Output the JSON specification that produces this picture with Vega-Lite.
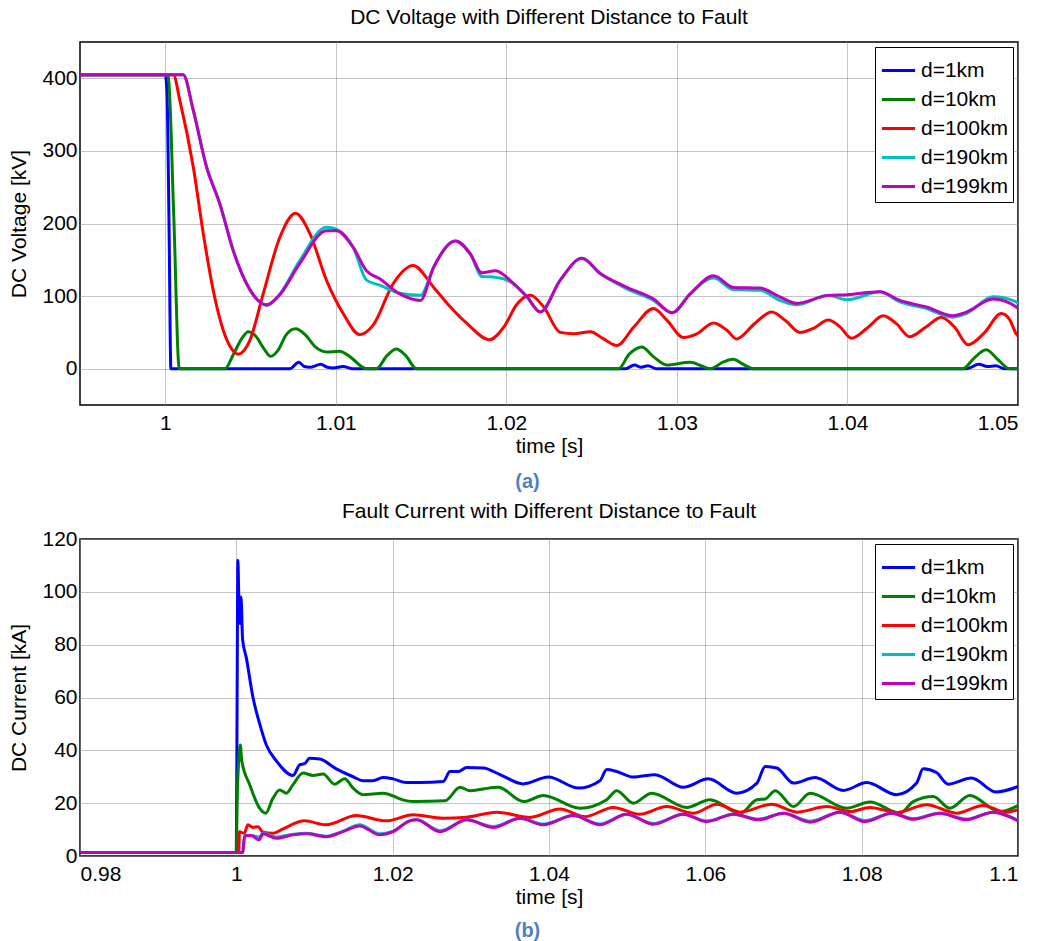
{
  "$schema": "https://vega.github.io/schema/vega-lite/v6.json",
  "background": "white",
  "padding": {"left": 8, "top": 6, "right": 5, "bottom": 2},
  "config": {
    "font": "Liberation Sans",
    "view": {"stroke": "black", "strokeWidth": 1.5},
    "axis": {"labelFont": "Liberation Sans", "labelFontSize": 21, "labelColor": "black", "titleFont": "Liberation Sans", "titleFontSize": 21, "titleFontWeight": "normal", "titleColor": "black", "gridColor": "#8a8a8a", "gridDash": [1, 1], "gridWidth": 1, "domain": false, "ticks": false},
    "legend": {"strokeColor": "black", "fillColor": "white", "padding": 5, "labelFont": "Liberation Sans", "labelFontSize": 21, "labelColor": "black", "symbolType": "stroke", "symbolStrokeWidth": 3, "symbolSize": 1100, "rowPadding": -4, "labelOffset": 4},
    "title": {"font": "Liberation Sans", "fontSize": 21, "fontWeight": "normal", "color": "black"},
    "concat": {"spacing": 8}
  },
  "datasets": {
    "volt": [
      {"d":"d=1km","t":0.995,"v":405},{"d":"d=1km","t":1.0,"v":405},{"d":"d=1km","t":1.0001,"v":380},{"d":"d=1km","t":1.00022,"v":200},{"d":"d=1km","t":1.00033,"v":0},{"d":"d=1km","t":1.0073,"v":0},{"d":"d=1km","t":1.00783,"v":9},{"d":"d=1km","t":1.00815,"v":3},{"d":"d=1km","t":1.00848,"v":2},{"d":"d=1km","t":1.00912,"v":6},{"d":"d=1km","t":1.0095,"v":2},{"d":"d=1km","t":1.00984,"v":1},{"d":"d=1km","t":1.01043,"v":3},{"d":"d=1km","t":1.011,"v":0},{"d":"d=1km","t":1.027,"v":0},{"d":"d=1km","t":1.0275,"v":5},{"d":"d=1km","t":1.0279,"v":2},{"d":"d=1km","t":1.0283,"v":4},{"d":"d=1km","t":1.0288,"v":0},{"d":"d=1km","t":1.047,"v":0},{"d":"d=1km","t":1.0477,"v":6},{"d":"d=1km","t":1.0482,"v":3},{"d":"d=1km","t":1.0487,"v":4},{"d":"d=1km","t":1.0492,"v":0},{"d":"d=1km","t":1.05,"v":0},
      {"d":"d=10km","t":0.995,"v":405},{"d":"d=10km","t":1.0,"v":405},{"d":"d=10km","t":1.00018,"v":401},{"d":"d=10km","t":1.0005,"v":209},{"d":"d=10km","t":1.00082,"v":0},{"d":"d=10km","t":1.0035,"v":0},{"d":"d=10km","t":1.004,"v":20},{"d":"d=10km","t":1.0045,"v":42},{"d":"d=10km","t":1.00486,"v":51},{"d":"d=10km","t":1.0053,"v":45},{"d":"d=10km","t":1.0058,"v":27},{"d":"d=10km","t":1.00617,"v":17},{"d":"d=10km","t":1.0066,"v":25},{"d":"d=10km","t":1.0071,"v":47},{"d":"d=10km","t":1.00764,"v":55},{"d":"d=10km","t":1.0082,"v":47},{"d":"d=10km","t":1.0088,"v":30},{"d":"d=10km","t":1.00945,"v":23},{"d":"d=10km","t":1.01023,"v":24},{"d":"d=10km","t":1.0108,"v":17},{"d":"d=10km","t":1.0118,"v":0},{"d":"d=10km","t":1.01238,"v":0},{"d":"d=10km","t":1.013,"v":18},{"d":"d=10km","t":1.01355,"v":27},{"d":"d=10km","t":1.0141,"v":18},{"d":"d=10km","t":1.01473,"v":0},{"d":"d=10km","t":1.02658,"v":0},{"d":"d=10km","t":1.0272,"v":20},{"d":"d=10km","t":1.02795,"v":30},{"d":"d=10km","t":1.0286,"v":17},{"d":"d=10km","t":1.02941,"v":5},{"d":"d=10km","t":1.03078,"v":9},{"d":"d=10km","t":1.03195,"v":0},{"d":"d=10km","t":1.0327,"v":9},{"d":"d=10km","t":1.0333,"v":13},{"d":"d=10km","t":1.0339,"v":6},{"d":"d=10km","t":1.03449,"v":0},{"d":"d=10km","t":1.04678,"v":0},{"d":"d=10km","t":1.0474,"v":14},{"d":"d=10km","t":1.04814,"v":26},{"d":"d=10km","t":1.0488,"v":13},{"d":"d=10km","t":1.04951,"v":0},{"d":"d=10km","t":1.05,"v":0},
      {"d":"d=100km","t":0.995,"v":405},{"d":"d=100km","t":1.00047,"v":405},{"d":"d=100km","t":1.00086,"v":369},{"d":"d=100km","t":1.00164,"v":278},{"d":"d=100km","t":1.00223,"v":186},{"d":"d=100km","t":1.00281,"v":108},{"d":"d=100km","t":1.0034,"v":53},{"d":"d=100km","t":1.0039,"v":27},{"d":"d=100km","t":1.00428,"v":20},{"d":"d=100km","t":1.00496,"v":39},{"d":"d=100km","t":1.00574,"v":103},{"d":"d=100km","t":1.00672,"v":181},{"d":"d=100km","t":1.00764,"v":214},{"d":"d=100km","t":1.00848,"v":186},{"d":"d=100km","t":1.00945,"v":122},{"d":"d=100km","t":1.01043,"v":76},{"d":"d=100km","t":1.01141,"v":47},{"d":"d=100km","t":1.01219,"v":60},{"d":"d=100km","t":1.01336,"v":117},{"d":"d=100km","t":1.01453,"v":142},{"d":"d=100km","t":1.01574,"v":112},{"d":"d=100km","t":1.01672,"v":85},{"d":"d=100km","t":1.0177,"v":62},{"d":"d=100km","t":1.01902,"v":40},{"d":"d=100km","t":1.01984,"v":57},{"d":"d=100km","t":1.02063,"v":89},{"d":"d=100km","t":1.02141,"v":101},{"d":"d=100km","t":1.02219,"v":85},{"d":"d=100km","t":1.02316,"v":50},{"d":"d=100km","t":1.02395,"v":48},{"d":"d=100km","t":1.02492,"v":51},{"d":"d=100km","t":1.0257,"v":41},{"d":"d=100km","t":1.02648,"v":32},{"d":"d=100km","t":1.02746,"v":57},{"d":"d=100km","t":1.02863,"v":83},{"d":"d=100km","t":1.02941,"v":67},{"d":"d=100km","t":1.03039,"v":43},{"d":"d=100km","t":1.03117,"v":48},{"d":"d=100km","t":1.03215,"v":63},{"d":"d=100km","t":1.03293,"v":53},{"d":"d=100km","t":1.0335,"v":41},{"d":"d=100km","t":1.03455,"v":62},{"d":"d=100km","t":1.03555,"v":78},{"d":"d=100km","t":1.03638,"v":66},{"d":"d=100km","t":1.03721,"v":50},{"d":"d=100km","t":1.03804,"v":56},{"d":"d=100km","t":1.03887,"v":67},{"d":"d=100km","t":1.03955,"v":58},{"d":"d=100km","t":1.04023,"v":42},{"d":"d=100km","t":1.04116,"v":56},{"d":"d=100km","t":1.04209,"v":73},{"d":"d=100km","t":1.04287,"v":62},{"d":"d=100km","t":1.04365,"v":44},{"d":"d=100km","t":1.04458,"v":57},{"d":"d=100km","t":1.04551,"v":71},{"d":"d=100km","t":1.04629,"v":57},{"d":"d=100km","t":1.04707,"v":33},{"d":"d=100km","t":1.04805,"v":50},{"d":"d=100km","t":1.04902,"v":76},{"d":"d=100km","t":1.0495,"v":68},{"d":"d=100km","t":1.0499,"v":48},{"d":"d=100km","t":1.05,"v":45},
      {"d":"d=190km","t":0.995,"v":405},{"d":"d=190km","t":1.00105,"v":405},{"d":"d=190km","t":1.00164,"v":356},{"d":"d=190km","t":1.00242,"v":278},{"d":"d=190km","t":1.0032,"v":227},{"d":"d=190km","t":1.00398,"v":163},{"d":"d=190km","t":1.00477,"v":117},{"d":"d=190km","t":1.0054,"v":95},{"d":"d=190km","t":1.00594,"v":87},{"d":"d=190km","t":1.00672,"v":103},{"d":"d=190km","t":1.00789,"v":149},{"d":"d=190km","t":1.00945,"v":195},{"d":"d=190km","t":1.01004,"v":192},{"d":"d=190km","t":1.01102,"v":167},{"d":"d=190km","t":1.0118,"v":122},{"d":"d=190km","t":1.01258,"v":115},{"d":"d=190km","t":1.01375,"v":104},{"d":"d=190km","t":1.01496,"v":101},{"d":"d=190km","t":1.01574,"v":140},{"d":"d=190km","t":1.01701,"v":176},{"d":"d=190km","t":1.01789,"v":158},{"d":"d=190km","t":1.01857,"v":127},{"d":"d=190km","t":1.01936,"v":126},{"d":"d=190km","t":1.02043,"v":117},{"d":"d=190km","t":1.02121,"v":99},{"d":"d=190km","t":1.02199,"v":78},{"d":"d=190km","t":1.02316,"v":122},{"d":"d=190km","t":1.02443,"v":152},{"d":"d=190km","t":1.02551,"v":131},{"d":"d=190km","t":1.02707,"v":110},{"d":"d=190km","t":1.02863,"v":94},{"d":"d=190km","t":1.02971,"v":77},{"d":"d=190km","t":1.03078,"v":103},{"d":"d=190km","t":1.03215,"v":125},{"d":"d=190km","t":1.03332,"v":109},{"d":"d=190km","t":1.03488,"v":108},{"d":"d=190km","t":1.03604,"v":94},{"d":"d=190km","t":1.03701,"v":88},{"d":"d=190km","t":1.03887,"v":101},{"d":"d=190km","t":1.04,"v":95},{"d":"d=190km","t":1.04189,"v":106},{"d":"d=190km","t":1.04307,"v":92},{"d":"d=190km","t":1.04463,"v":83},{"d":"d=190km","t":1.04619,"v":71},{"d":"d=190km","t":1.04697,"v":76},{"d":"d=190km","t":1.04854,"v":99},{"d":"d=190km","t":1.0499,"v":92},{"d":"d=190km","t":1.05,"v":89},
      {"d":"d=199km","t":0.995,"v":405},{"d":"d=199km","t":1.00105,"v":405},{"d":"d=199km","t":1.00164,"v":356},{"d":"d=199km","t":1.00242,"v":278},{"d":"d=199km","t":1.0032,"v":227},{"d":"d=199km","t":1.00398,"v":163},{"d":"d=199km","t":1.00477,"v":117},{"d":"d=199km","t":1.0054,"v":95},{"d":"d=199km","t":1.00594,"v":88},{"d":"d=199km","t":1.00672,"v":102},{"d":"d=199km","t":1.00789,"v":145},{"d":"d=199km","t":1.00945,"v":190},{"d":"d=199km","t":1.01004,"v":190},{"d":"d=199km","t":1.01102,"v":167},{"d":"d=199km","t":1.0118,"v":135},{"d":"d=199km","t":1.01258,"v":124},{"d":"d=199km","t":1.01375,"v":103},{"d":"d=199km","t":1.01496,"v":94},{"d":"d=199km","t":1.01574,"v":140},{"d":"d=199km","t":1.01701,"v":176},{"d":"d=199km","t":1.01789,"v":158},{"d":"d=199km","t":1.01857,"v":132},{"d":"d=199km","t":1.01936,"v":135},{"d":"d=199km","t":1.02043,"v":117},{"d":"d=199km","t":1.02121,"v":99},{"d":"d=199km","t":1.02199,"v":78},{"d":"d=199km","t":1.02316,"v":122},{"d":"d=199km","t":1.02443,"v":152},{"d":"d=199km","t":1.02551,"v":131},{"d":"d=199km","t":1.02707,"v":112},{"d":"d=199km","t":1.02863,"v":96},{"d":"d=199km","t":1.02971,"v":77},{"d":"d=199km","t":1.03078,"v":103},{"d":"d=199km","t":1.03215,"v":128},{"d":"d=199km","t":1.03332,"v":112},{"d":"d=199km","t":1.03488,"v":111},{"d":"d=199km","t":1.03604,"v":99},{"d":"d=199km","t":1.03701,"v":90},{"d":"d=199km","t":1.03887,"v":101},{"d":"d=199km","t":1.04,"v":102},{"d":"d=199km","t":1.04189,"v":106},{"d":"d=199km","t":1.04307,"v":94},{"d":"d=199km","t":1.04463,"v":85},{"d":"d=199km","t":1.04619,"v":73},{"d":"d=199km","t":1.04697,"v":78},{"d":"d=199km","t":1.04854,"v":96},{"d":"d=199km","t":1.0499,"v":85},{"d":"d=199km","t":1.05,"v":83}
    ],
    "curr": [
      {"d":"d=1km","t":0.98,"v":1.3},{"d":"d=1km","t":1.0,"v":1.3},{"d":"d=1km","t":1.0001,"v":60},{"d":"d=1km","t":1.0002,"v":112},{"d":"d=1km","t":1.0003,"v":100},{"d":"d=1km","t":1.00045,"v":88},{"d":"d=1km","t":1.0006,"v":98},{"d":"d=1km","t":1.0008,"v":82},{"d":"d=1km","t":1.00128,"v":75},{"d":"d=1km","t":1.00213,"v":60},{"d":"d=1km","t":1.00299,"v":50},{"d":"d=1km","t":1.00384,"v":42},{"d":"d=1km","t":1.00512,"v":36},{"d":"d=1km","t":1.00725,"v":30.5},{"d":"d=1km","t":1.0081,"v":34.5},{"d":"d=1km","t":1.00875,"v":35},{"d":"d=1km","t":1.00938,"v":37},{"d":"d=1km","t":1.01066,"v":36.7},{"d":"d=1km","t":1.01279,"v":33},{"d":"d=1km","t":1.01493,"v":30},{"d":"d=1km","t":1.0162,"v":28.5},{"d":"d=1km","t":1.01748,"v":28.5},{"d":"d=1km","t":1.01876,"v":29.7},{"d":"d=1km","t":1.02004,"v":29.2},{"d":"d=1km","t":1.02175,"v":27.8},{"d":"d=1km","t":1.02345,"v":27.8},{"d":"d=1km","t":1.02648,"v":28.2},{"d":"d=1km","t":1.02733,"v":32},{"d":"d=1km","t":1.0284,"v":32},{"d":"d=1km","t":1.02947,"v":33.5},{"d":"d=1km","t":1.0316,"v":33.3},{"d":"d=1km","t":1.03373,"v":30.8},{"d":"d=1km","t":1.03672,"v":27.3},{"d":"d=1km","t":1.03991,"v":29.9},{"d":"d=1km","t":1.04375,"v":25.7},{"d":"d=1km","t":1.04652,"v":28.5},{"d":"d=1km","t":1.04738,"v":32.7},{"d":"d=1km","t":1.04866,"v":32},{"d":"d=1km","t":1.05079,"v":29.9},{"d":"d=1km","t":1.05356,"v":30.8},{"d":"d=1km","t":1.05718,"v":26},{"d":"d=1km","t":1.06038,"v":29.2},{"d":"d=1km","t":1.064,"v":23.8},{"d":"d=1km","t":1.0666,"v":27.6},{"d":"d=1km","t":1.06766,"v":33.9},{"d":"d=1km","t":1.06915,"v":33.3},{"d":"d=1km","t":1.07128,"v":27.6},{"d":"d=1km","t":1.07404,"v":29.7},{"d":"d=1km","t":1.07766,"v":24.8},{"d":"d=1km","t":1.08064,"v":27.8},{"d":"d=1km","t":1.08447,"v":23.2},{"d":"d=1km","t":1.08702,"v":27.6},{"d":"d=1km","t":1.08787,"v":33},{"d":"d=1km","t":1.08957,"v":31.6},{"d":"d=1km","t":1.09106,"v":27.2},{"d":"d=1km","t":1.09404,"v":29.5},{"d":"d=1km","t":1.09723,"v":24.2},{"d":"d=1km","t":1.1,"v":26.3},
      {"d":"d=10km","t":0.98,"v":1.3},{"d":"d=10km","t":1.0,"v":1.3},{"d":"d=10km","t":1.0001,"v":20},{"d":"d=10km","t":1.0003,"v":36},{"d":"d=10km","t":1.00051,"v":42},{"d":"d=10km","t":1.0007,"v":36},{"d":"d=10km","t":1.00171,"v":27},{"d":"d=10km","t":1.00299,"v":18},{"d":"d=10km","t":1.00375,"v":16.2},{"d":"d=10km","t":1.00469,"v":21.9},{"d":"d=10km","t":1.00554,"v":25},{"d":"d=10km","t":1.0064,"v":23.8},{"d":"d=10km","t":1.00725,"v":27},{"d":"d=10km","t":1.00853,"v":31.4},{"d":"d=10km","t":1.00981,"v":30.5},{"d":"d=10km","t":1.01109,"v":31},{"d":"d=10km","t":1.01258,"v":27.2},{"d":"d=10km","t":1.01386,"v":29.2},{"d":"d=10km","t":1.01493,"v":25.7},{"d":"d=10km","t":1.0162,"v":23.2},{"d":"d=10km","t":1.01876,"v":23.8},{"d":"d=10km","t":1.02175,"v":20.9},{"d":"d=10km","t":1.02264,"v":20.6},{"d":"d=10km","t":1.0267,"v":20.9},{"d":"d=10km","t":1.02862,"v":26},{"d":"d=10km","t":1.0299,"v":24.7},{"d":"d=10km","t":1.0316,"v":25.4},{"d":"d=10km","t":1.03352,"v":26},{"d":"d=10km","t":1.03672,"v":20.6},{"d":"d=10km","t":1.03928,"v":22.9},{"d":"d=10km","t":1.04397,"v":18.1},{"d":"d=10km","t":1.04738,"v":21.3},{"d":"d=10km","t":1.04866,"v":24.7},{"d":"d=10km","t":1.05079,"v":20},{"d":"d=10km","t":1.05313,"v":23.8},{"d":"d=10km","t":1.05761,"v":18.4},{"d":"d=10km","t":1.0606,"v":21.3},{"d":"d=10km","t":1.06447,"v":16.2},{"d":"d=10km","t":1.0666,"v":21.3},{"d":"d=10km","t":1.06766,"v":21.6},{"d":"d=10km","t":1.06894,"v":24.7},{"d":"d=10km","t":1.07128,"v":18.7},{"d":"d=10km","t":1.0734,"v":23.8},{"d":"d=10km","t":1.07809,"v":18.1},{"d":"d=10km","t":1.08106,"v":20.4},{"d":"d=10km","t":1.08489,"v":16.2},{"d":"d=10km","t":1.0866,"v":20.6},{"d":"d=10km","t":1.08915,"v":22.5},{"d":"d=10km","t":1.09128,"v":18.1},{"d":"d=10km","t":1.09383,"v":22.9},{"d":"d=10km","t":1.09766,"v":16.8},{"d":"d=10km","t":1.1,"v":19.1},
      {"d":"d=100km","t":0.98,"v":1.3},{"d":"d=100km","t":1.0003,"v":1.3},{"d":"d=100km","t":1.0004,"v":9.2},{"d":"d=100km","t":1.001,"v":8.6},{"d":"d=100km","t":1.00149,"v":11.8},{"d":"d=100km","t":1.0021,"v":10.8},{"d":"d=100km","t":1.00277,"v":11.1},{"d":"d=100km","t":1.00341,"v":9},{"d":"d=100km","t":1.00469,"v":8.6},{"d":"d=100km","t":1.00597,"v":10.3},{"d":"d=100km","t":1.00874,"v":13.3},{"d":"d=100km","t":1.01151,"v":11.8},{"d":"d=100km","t":1.01535,"v":15.3},{"d":"d=100km","t":1.01919,"v":13.3},{"d":"d=100km","t":1.0226,"v":15.6},{"d":"d=100km","t":1.02648,"v":14.3},{"d":"d=100km","t":1.02947,"v":14.7},{"d":"d=100km","t":1.0333,"v":16.6},{"d":"d=100km","t":1.03757,"v":14.6},{"d":"d=100km","t":1.04141,"v":17.8},{"d":"d=100km","t":1.04461,"v":14.9},{"d":"d=100km","t":1.04823,"v":18.4},{"d":"d=100km","t":1.05164,"v":15.8},{"d":"d=100km","t":1.05505,"v":18.7},{"d":"d=100km","t":1.05846,"v":16.2},{"d":"d=100km","t":1.06149,"v":19.6},{"d":"d=100km","t":1.06447,"v":16.6},{"d":"d=100km","t":1.06851,"v":19.6},{"d":"d=100km","t":1.0717,"v":16.6},{"d":"d=100km","t":1.07553,"v":18.7},{"d":"d=100km","t":1.07851,"v":16.8},{"d":"d=100km","t":1.08106,"v":18.4},{"d":"d=100km","t":1.08447,"v":16.5},{"d":"d=100km","t":1.0883,"v":19.4},{"d":"d=100km","t":1.09213,"v":16.2},{"d":"d=100km","t":1.09553,"v":19.1},{"d":"d=100km","t":1.09851,"v":16.6},{"d":"d=100km","t":1.1,"v":17.5},
      {"d":"d=190km","t":0.98,"v":1.3},{"d":"d=190km","t":1.0008,"v":1.3},{"d":"d=190km","t":1.00107,"v":7.7},{"d":"d=190km","t":1.0019,"v":7.8},{"d":"d=190km","t":1.0029,"v":7.2},{"d":"d=190km","t":1.00341,"v":8.6},{"d":"d=190km","t":1.00512,"v":7.2},{"d":"d=190km","t":1.00725,"v":8.2},{"d":"d=190km","t":1.00895,"v":8.6},{"d":"d=190km","t":1.01151,"v":7.5},{"d":"d=190km","t":1.01365,"v":9.4},{"d":"d=190km","t":1.01578,"v":11.8},{"d":"d=190km","t":1.01834,"v":8.4},{"d":"d=190km","t":1.02004,"v":9.4},{"d":"d=190km","t":1.02217,"v":13.3},{"d":"d=190km","t":1.02307,"v":13.7},{"d":"d=190km","t":1.02606,"v":9.6},{"d":"d=190km","t":1.02947,"v":13.7},{"d":"d=190km","t":1.03288,"v":11.2},{"d":"d=190km","t":1.03629,"v":14.3},{"d":"d=190km","t":1.03928,"v":12.1},{"d":"d=190km","t":1.04311,"v":15.3},{"d":"d=190km","t":1.04652,"v":12.1},{"d":"d=190km","t":1.04994,"v":15.8},{"d":"d=190km","t":1.05335,"v":12.3},{"d":"d=190km","t":1.05718,"v":15.8},{"d":"d=190km","t":1.06017,"v":13.3},{"d":"d=190km","t":1.06362,"v":15.8},{"d":"d=190km","t":1.06681,"v":14},{"d":"d=190km","t":1.07,"v":16.2},{"d":"d=190km","t":1.0734,"v":13.2},{"d":"d=190km","t":1.07723,"v":16.6},{"d":"d=190km","t":1.08043,"v":13.4},{"d":"d=190km","t":1.08383,"v":16.2},{"d":"d=190km","t":1.0866,"v":14.2},{"d":"d=190km","t":1.09,"v":16.2},{"d":"d=190km","t":1.0934,"v":14},{"d":"d=190km","t":1.09681,"v":16.6},{"d":"d=190km","t":1.1,"v":13.6},
      {"d":"d=199km","t":0.98,"v":1.3},{"d":"d=199km","t":1.0008,"v":1.3},{"d":"d=199km","t":1.00107,"v":7.7},{"d":"d=199km","t":1.0019,"v":7.8},{"d":"d=199km","t":1.0029,"v":6.1},{"d":"d=199km","t":1.00341,"v":8.4},{"d":"d=199km","t":1.00512,"v":6.7},{"d":"d=199km","t":1.00725,"v":8},{"d":"d=199km","t":1.00895,"v":8.4},{"d":"d=199km","t":1.01151,"v":7.3},{"d":"d=199km","t":1.01365,"v":9.2},{"d":"d=199km","t":1.01578,"v":11.4},{"d":"d=199km","t":1.01834,"v":8},{"d":"d=199km","t":1.02004,"v":9.2},{"d":"d=199km","t":1.02217,"v":13.3},{"d":"d=199km","t":1.02307,"v":13.7},{"d":"d=199km","t":1.02606,"v":9.2},{"d":"d=199km","t":1.02947,"v":13.7},{"d":"d=199km","t":1.03288,"v":10.8},{"d":"d=199km","t":1.03629,"v":14.3},{"d":"d=199km","t":1.03928,"v":11.8},{"d":"d=199km","t":1.04311,"v":15.3},{"d":"d=199km","t":1.04652,"v":11.8},{"d":"d=199km","t":1.04994,"v":15.8},{"d":"d=199km","t":1.05335,"v":12},{"d":"d=199km","t":1.05718,"v":15.8},{"d":"d=199km","t":1.06017,"v":13},{"d":"d=199km","t":1.06362,"v":15.8},{"d":"d=199km","t":1.06681,"v":13.7},{"d":"d=199km","t":1.07,"v":16.2},{"d":"d=199km","t":1.0734,"v":12.8},{"d":"d=199km","t":1.07723,"v":16.6},{"d":"d=199km","t":1.08043,"v":13},{"d":"d=199km","t":1.08383,"v":16.2},{"d":"d=199km","t":1.0866,"v":13.9},{"d":"d=199km","t":1.09,"v":16.2},{"d":"d=199km","t":1.0934,"v":13.7},{"d":"d=199km","t":1.09681,"v":16.6},{"d":"d=199km","t":1.1,"v":13.3}
    ]
  },
  "vconcat": [
    {
      "title": {"text": "(a)", "orient": "bottom", "anchor": "middle", "color": "#4f81bd", "fontWeight": "bold", "fontSize": 20, "offset": 15, "dx": 14},
      "resolve": {"scale": {"color": "independent"}, "legend": {"color": "independent"}},
      "vconcat": [
        {
          "width": 938, "height": 363,
          "title": {"text": "DC Voltage with Different Distance to Fault", "offset": 14},
          "data": {"name": "volt"},
          "mark": {"type": "line", "strokeWidth": 3, "clip": true, "interpolate": "monotone"},
          "encoding": {
            "x": {"field": "t", "type": "quantitative", "scale": {"domain": [0.995, 1.05], "nice": false, "zero": false}, "axis": {"values": [1, 1.01, 1.02, 1.03, 1.04, 1.05], "format": ".2~f", "title": "time [s]", "labelPadding": 7, "titlePadding": 2}},
            "y": {"field": "v", "type": "quantitative", "scale": {"domain": [-50, 450], "nice": false}, "axis": {"values": [0, 100, 200, 300, 400], "title": "DC Voltage [kV]", "labelPadding": 3, "titlePadding": 12}},
            "color": {"field": "d", "type": "nominal", "sort": null, "scale": {"domain": ["d=1km", "d=10km", "d=100km", "d=190km", "d=199km"], "range": ["#0000ff", "#008000", "#ff0000", "#00bfbf", "#bf00bf"]}, "legend": {"orient": "top-right", "offset": 5, "title": null}}
          }
        }
      ]
    },
    {
      "title": {"text": "(b)", "orient": "bottom", "anchor": "middle", "color": "#4f81bd", "fontWeight": "bold", "fontSize": 20, "offset": 13, "dx": 14},
      "resolve": {"scale": {"color": "independent"}, "legend": {"color": "independent"}},
      "vconcat": [
        {
          "width": 938, "height": 317,
          "title": {"text": "Fault Current with Different Distance to Fault", "offset": 6},
          "data": {"name": "curr"},
          "mark": {"type": "line", "strokeWidth": 3, "clip": true, "interpolate": "monotone"},
          "encoding": {
            "x": {"field": "t", "type": "quantitative", "scale": {"domain": [0.98, 1.1], "nice": false, "zero": false}, "axis": {"values": [0.98, 1, 1.02, 1.04, 1.06, 1.08, 1.1], "format": ".2~f", "title": "time [s]", "labelPadding": 7, "titlePadding": 2}},
            "y": {"field": "v", "type": "quantitative", "scale": {"domain": [0, 120], "nice": false}, "axis": {"values": [0, 20, 40, 60, 80, 100, 120], "title": "DC Current [kA]", "labelPadding": 3, "titlePadding": 12}},
            "color": {"field": "d", "type": "nominal", "sort": null, "scale": {"domain": ["d=1km", "d=10km", "d=100km", "d=190km", "d=199km"], "range": ["#0000ff", "#008000", "#ff0000", "#00bfbf", "#bf00bf"]}, "legend": {"orient": "top-right", "offset": 5, "title": null}}
          }
        }
      ]
    }
  ],
  "resolve": {"scale": {"color": "independent"}, "legend": {"color": "independent"}}
}
